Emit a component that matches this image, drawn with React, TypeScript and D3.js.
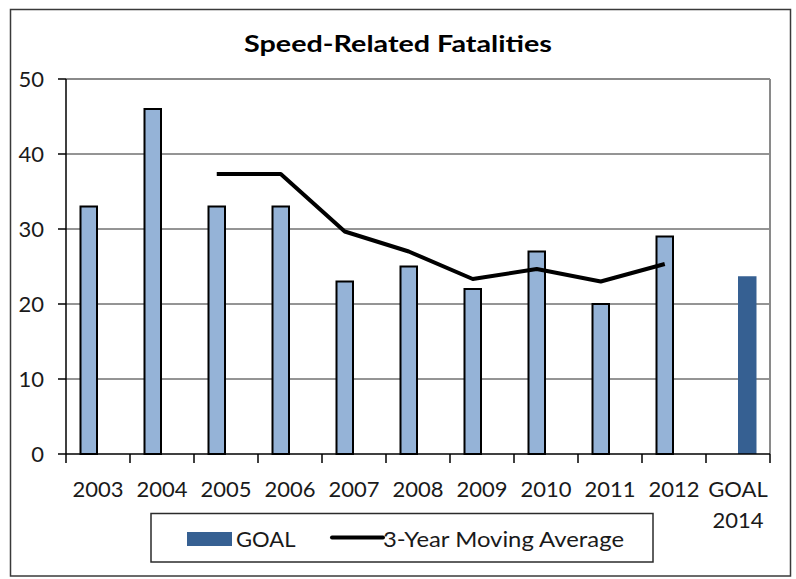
import * as d3 from 'd3';

// chart data
const categories = ['2003', '2004', '2005', '2006', '2007', '2008', '2009', '2010', '2011', '2012', 'GOAL 2014'];
const fatalities = [33, 46, 33, 33, 23, 25, 22, 27, 20, 29, null];
const goal = [null, null, null, null, null, null, null, null, null, null, 23.7];
const movingAvg = [null, null, 37.33, 37.33, 29.67, 27, 23.33, 24.67, 23, 25.33, null];
const yTicks = [0, 10, 20, 30, 40, 50];

const W = 796;
const H = 579;
const margin = { left: 66, right: 26, top: 79, bottom: 125 };
const font = 'Lato, "Open Sans", sans-serif';

const App = () => {
  const x = d3.scaleBand<string>()
    .domain(categories)
    .range([margin.left, W - margin.right])
    .padding(0);

  const y = d3.scaleLinear()
    .domain([0, 50])
    .range([H - margin.bottom, margin.top]);

  const barW = 18.5;
  const center = (c: string) => (x(c) ?? 0) + x.bandwidth() / 2;

  // moving average drawn through the centres of the yearly bars
  const line = d3.line<number | null>()
    .defined(d => d != null)
    .x((_, i) => center(categories[i]) - barW / 2)
    .y(d => y(d as number));

  const x0 = margin.left;
  const x1 = W - margin.right;
  const y0 = y(0);
  const boundaries = d3.range(categories.length + 1).map(i => x0 + i * x.bandwidth());

  return (
    <svg width={W} height={H} style={{ position: 'absolute', left: 0, top: 0, background: '#fff' }}>
      {/* chart border */}
      <rect x={10.5} y={9.5} width={780} height={566.5} fill="#fff" stroke="#3a3a3a" strokeWidth={1.5} />

      <text x={398} y={52} textAnchor="middle" fontFamily={font} fontWeight="bold" fontSize={22}
        textLength={308} lengthAdjust="spacingAndGlyphs" fill="#000">
        Speed-Related Fatalities
      </text>

      {/* gridlines */}
      {yTicks.filter(t => t > 0 && t < 50).map(t => (
        <line key={t} x1={x0} x2={x1} y1={y(t)} y2={y(t)} stroke="#2b2b2b" strokeWidth={1} />
      ))}
      {/* plot area border (top, right) */}
      <line x1={x0} x2={x1} y1={y(50)} y2={y(50)} stroke="#8a8a8a" strokeWidth={2} />
      <line x1={x1} x2={x1} y1={y(50)} y2={y0} stroke="#8a8a8a" strokeWidth={2} />

      {/* bars */}
      {fatalities.map((v, i) => v == null ? null : (
        <rect key={categories[i]} x={center(categories[i]) - barW + 1} y={y(v)}
          width={barW - 2} height={y0 - y(v)} fill="#95b3d7" stroke="#000" strokeWidth={2} />
      ))}
      {goal.map((v, i) => v == null ? null : (
        <rect key={'g' + categories[i]} x={center(categories[i])} y={y(v)}
          width={barW} height={y0 - y(v)} fill="#366092" />
      ))}

      <path d={line(movingAvg) ?? ''} fill="none" stroke="#000" strokeWidth={4} strokeLinejoin="round" />

      {/* y axis */}
      <line x1={x0} x2={x0} y1={y(50)} y2={y0} stroke="#000" strokeWidth={1.5} />
      {yTicks.map(t => (
        <g key={t}>
          <line x1={x0 - 8} x2={x0} y1={y(t)} y2={y(t)} stroke="#000" strokeWidth={1.5} />
          <text x={44} y={y(t) + 8} textAnchor="end" fontFamily={font} fontSize={22} fill="#1a1a1a">{t}</text>
        </g>
      ))}

      {/* x axis */}
      <line x1={x0} x2={x1} y1={y0} y2={y0} stroke="#000" strokeWidth={1.5} />
      {boundaries.map(b => (
        <line key={b} x1={b} x2={b} y1={y0} y2={y0 + 9} stroke="#000" strokeWidth={1.5} />
      ))}
      {categories.map(c => (
        <text key={c} x={center(c)} y={497} textAnchor="middle" fontFamily={font} fontSize={22} fill="#1a1a1a">
          {c.split(' ').map((part, j) => (
            <tspan key={j} x={center(c)} dy={j === 0 ? 0 : 31}>{part}</tspan>
          ))}
        </text>
      ))}

      {/* legend */}
      <rect x={151} y={513.5} width={502} height={48.5} fill="#fff" stroke="#2b2b2b" strokeWidth={1.5} />
      <rect x={187} y={532} width={45} height={14} fill="#366092" />
      <text x={236} y={547} fontFamily={font} fontSize={22} fill="#1a1a1a">GOAL</text>
      <line x1={332} x2={383} y1={537.5} y2={537.5} stroke="#000" strokeWidth={4} strokeLinecap="round" />
      <text x={383} y={547} fontFamily={font} fontSize={22} fill="#1a1a1a"
        textLength={241} lengthAdjust="spacingAndGlyphs">3-Year Moving Average</text>
    </svg>
  );
};

export default App;
